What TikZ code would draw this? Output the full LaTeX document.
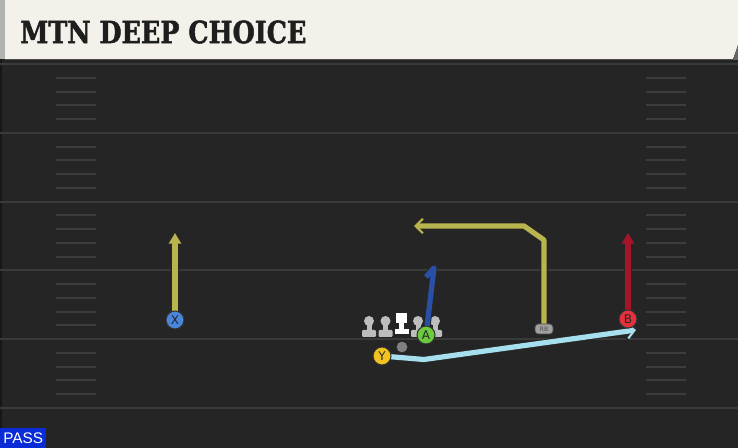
\documentclass[tikz,border=0pt]{standalone}
\usepackage{fontspec}
\setmainfont{DejaVu Serif}
\newfontfamily\titlefont[FakeBold=1.6]{DejaVu Serif Bold}
\newfontfamily\passfont{Liberation Sans}
\newfontfamily\lblfont{DejaVu Sans}
\usetikzlibrary{arrows.meta}
\definecolor{fieldbg}{HTML}{252525}
\definecolor{yardline}{HTML}{3A3A3A}
\definecolor{hashc}{HTML}{3C3C3C}
\definecolor{headerbg}{HTML}{F4F1EA}
\definecolor{titlec}{HTML}{1E1E1E}
\definecolor{passblue}{HTML}{0A2BD8}
\definecolor{olive}{HTML}{B8B44E}
\definecolor{skyc}{HTML}{A6E0EE}
\definecolor{navyc}{HTML}{2A4FA6}
\definecolor{redc}{HTML}{A5142A}
\definecolor{xblue}{HTML}{4A86DA}
\definecolor{yyellow}{HTML}{F2C21E}
\definecolor{agreen}{HTML}{6CCB3C}
\definecolor{bred}{HTML}{E3323E}
\definecolor{linem}{HTML}{BDBDBD}
\definecolor{rbgray}{HTML}{A0A0A0}
\tikzset{
  yard/.style={draw=yardline, line width=1.5pt},
  hashm/.style={draw=hashc, line width=1.5pt},
  routeout/.style={draw=black!85, line width=5.3pt, line join=round},
  routein/.style={line width=3.9pt, line join=round},
  player/.style={circle, draw=black!80, line width=0.8pt, minimum size=13.5pt, inner sep=0pt, font=\lblfont\fontsize{9}{9}\selectfont, text=black!85},
  lineman/.style={fill=linem},
}
\begin{document}
\begin{tikzpicture}[x=0.75pt,y=-0.75pt]
\useasboundingbox (0,0) rectangle (738,448);
% field
\fill[fieldbg] (0,0) rectangle (738,448);
\draw[draw=black!60!yardline, line width=0.8pt] (1,59) -- (1,448);
% yard lines
\foreach \k in {0,...,5} {
  \draw[yard] (0,{64+68.8*\k}) -- (738,{64+68.8*\k});
}
% hash marks
\foreach \k in {0,...,4} {
  \foreach \j in {1,...,4} {
    \draw[hashm] (56,{64+68.8*\k+13.76*\j}) -- (96,{64+68.8*\k+13.76*\j});
    \draw[hashm] (646,{64+68.8*\k+13.76*\j}) -- (686,{64+68.8*\k+13.76*\j});
  }
}
% header
\fill[headerbg] (5,0) -- (738,0) -- (738,45) -- (733,59) -- (5,59) -- cycle;
\fill[black!30] (0,0) rectangle (5,59);
\fill[black!60] (738,45) -- (738,60) -- (733,60) -- cycle;
\draw[black!70, line width=0.6pt] (5,59.5) -- (733,59.5);
\node[anchor=west, inner sep=0pt, text=titlec, xscale=0.83] (title) at (20,32)
  {\titlefont\fontsize{23}{23}\selectfont MTN DEEP CHOICE};
% PASS label
\node[fill=passblue, text=white, anchor=south west, inner sep=0pt, minimum width=34.5pt, minimum height=15pt, font=\passfont\fontsize{11.5}{11.5}\selectfont] (pass) at (0,448) {PASS};

% linemen
\foreach \x in {369,385.5,418,435} {
  \fill[lineman] (\x,321) circle[radius=5];
  \fill[lineman] (\x-2.5,321) rectangle (\x+2.5,331);
  \fill[lineman, rounded corners=0.8pt] (\x-7,330) rectangle (\x+7,337);
}
\fill[white] (396,313) rectangle (407,323);
\fill[white] (399,323) rectangle (404,330);
\fill[white] (394.5,329.5) rectangle (408.5,334);
% QB
\node[circle, fill=black!50, inner sep=0pt, minimum size=8pt] (qb) at (402,347) {};

% player coordinates
\coordinate (Xp) at (175,320);
\coordinate (Yp) at (382,356);
\coordinate (Ap) at (426,335);
\coordinate (Bp) at (628,319);
\coordinate (RBp) at (544,329);
\coordinate (xtip) at (175,233);
\coordinate (btip) at (628,233);
\coordinate (ybend) at (424,359.5);
\coordinate (ytip) at (636,330);
\coordinate (rb1) at (544,240);
\coordinate (rb2) at (524,226);
\coordinate (rbtip) at (414,226);
\coordinate (a1) at (434,268);
\coordinate (a2) at (426,277);

% routes: outlines
\draw[routeout, -{Triangle[length=9pt,width=10.5pt]}] (Xp) -- (xtip);
\draw[routeout, -{Triangle[length=9pt,width=10.5pt]}] (Bp) -- (btip);
\draw[routeout, -{Straight Barb[length=6pt,width=12pt,line width=2.8pt]}] (RBp) -- (rb1) -- (rb2) -- (rbtip);
\draw[routeout, -{Straight Barb[length=6pt,width=12pt,line width=2.8pt]}] (Yp) -- (ybend) -- (ytip);
\draw[routeout] (Ap) -- (a1) -- (a2);
% routes: colors
\draw[routein, draw=olive, -{Triangle[length=8pt,width=9pt]}, fill=olive] (Xp) -- (xtip);
\draw[routein, draw=redc, -{Triangle[length=8pt,width=9pt]}, fill=redc] (Bp) -- (btip);
\draw[routein, draw=olive, -{Straight Barb[length=5.5pt,width=11pt,line width=1.6pt]}] (RBp) -- (rb1) -- (rb2) -- (rbtip);
\draw[routein, draw=skyc, -{Straight Barb[length=5.5pt,width=11pt,line width=1.6pt]}] (Yp) -- (ybend) -- (ytip);
\draw[routein, draw=navyc] (Ap) -- (a1) -- (a2);

% players
\node[player, fill=xblue] (X) at (Xp) {X};
\node[player, fill=yyellow] (Y) at (Yp) {Y};
\node[player, fill=agreen] (A) at (Ap) {A};
\node[player, fill=bred] (B) at (Bp) {B};
\node[fill=rbgray, draw=black!70, line width=0.5pt, rounded corners=2.5pt, minimum width=13.5pt, minimum height=7.5pt, inner sep=0pt, font=\lblfont\fontsize{4.5}{4.5}\selectfont, text=black!70] (RB) at (RBp) {RB};
\end{tikzpicture}
\end{document}
